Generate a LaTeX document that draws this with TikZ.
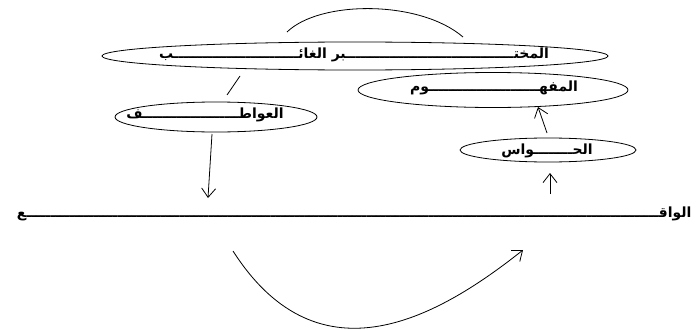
\documentclass[tikz,border=0pt]{standalone}
\usepackage{fontspec}
\usetikzlibrary{shapes.geometric,arrows.meta}
\newfontfamily\arabicfont[Script=Arabic]{DejaVu Sans}
\TeXXeTstate=1
\ExplSyntaxOn
\cs_new:Npn \kash #1 {\prg_replicate:nn{#1}{ـ}}
\ExplSyntaxOff
\tikzset{
  oval/.style={draw,ellipse,line width=0.8pt,inner sep=0pt},
  lbl/.style={font=\arabicfont\bfseries\fontsize{14}{16}\selectfont,inner sep=0pt},
  conn/.style={line width=0.8pt},
  arr/.style={line width=0.8pt,-{Straight Barb[length=9pt,width=14pt]}}
}
\begin{document}
\begin{tikzpicture}[x=1pt,y=-1pt]
\useasboundingbox (0,0) rectangle (700,329);
\node[oval,minimum width=506pt,minimum height=28pt] (top) at (355,56) {};
\node[lbl] (toptxt) at (354,55) {\beginR المخت\kash{35}بر الغائ\kash{26}ب\endR};
\node[oval,minimum width=202pt,minimum height=30pt] (awatif) at (216,117) {};
\node[lbl] (awtxt) at (205,115) {\beginR العواط\kash{20}ف\endR};
\node[oval,minimum width=270pt,minimum height=35pt] (mafhum) at (493,90) {};
\node[lbl] (mftxt) at (494,88) {\beginR المفه\kash{23}وم\endR};
\node[oval,minimum width=176pt,minimum height=24pt] (hawas) at (548,150) {};
\node[lbl] (hwtxt) at (547,151) {\beginR الح\kash{8}واس\endR};
\node[lbl,anchor=center] (waqi) at (354,214) {\beginR الواق\kash{132}ع\endR};
% connectors
\coordinate (ta) at (240,76);
\coordinate (tb) at (227,95);
\draw[conn] (ta) -- (tb);
\coordinate (aa) at (212,134);
\coordinate (ab) at (208,198);
\draw[arr] (aa) -- (ab);
\coordinate (ha) at (547,133);
\coordinate (hb) at (538,107);
\draw[arr] (ha) -- (hb);
\coordinate (wa) at (550,194);
\coordinate (wb) at (550,173);
\draw[arr] (wa) -- (wb);
\coordinate (t1) at (287,32);
\coordinate (t2) at (463,37);
\draw[conn] (t1) .. controls (320,0) and (420,0) .. (t2);
\coordinate (b1) at (233,251);
\coordinate (b2) at (523,250);
\draw[arr] (b1) .. controls (320,387) and (441,315) .. (b2);
\end{tikzpicture}
\end{document}
